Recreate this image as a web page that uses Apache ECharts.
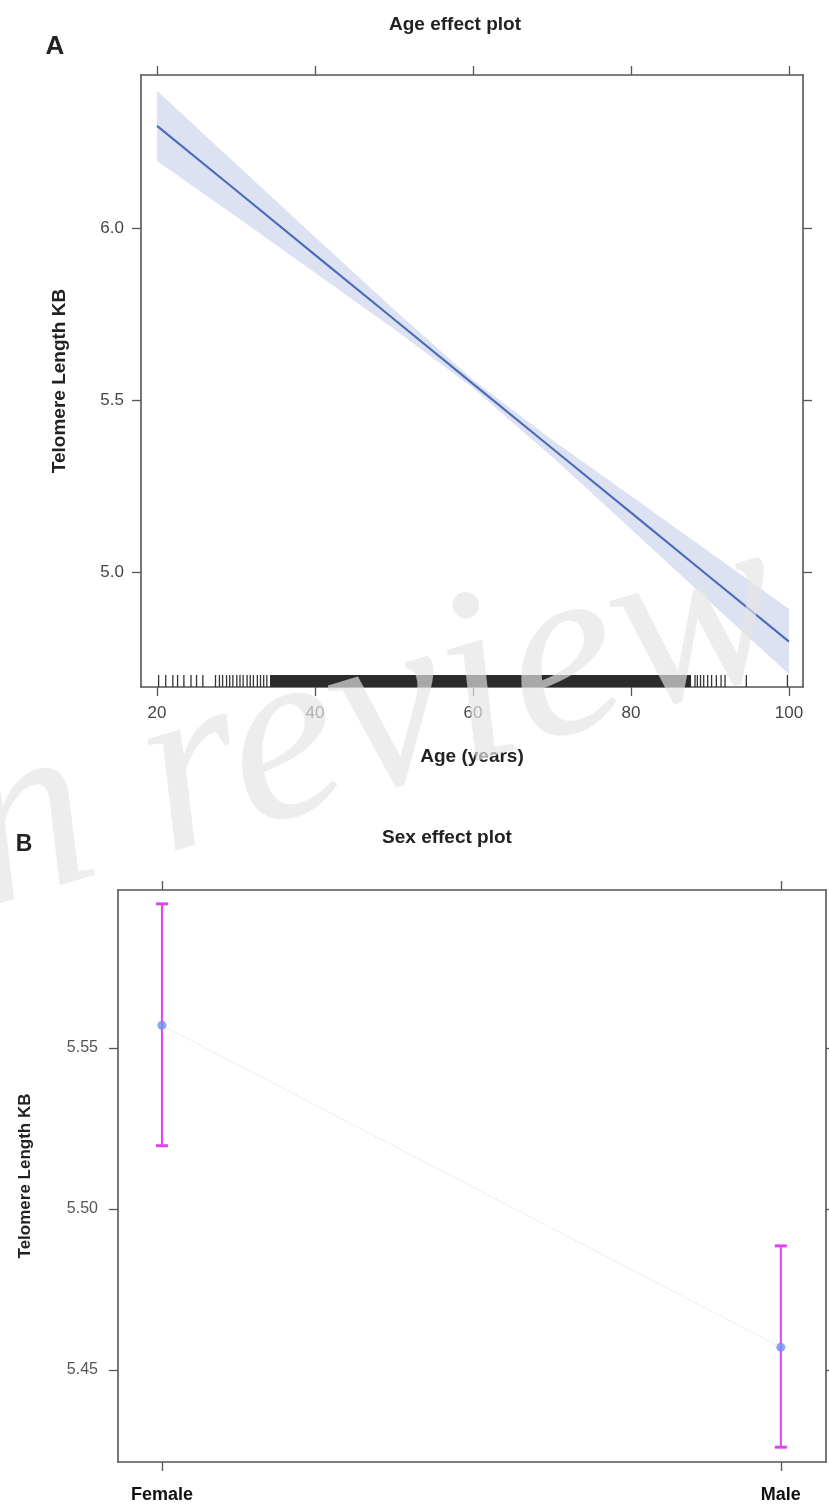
<!DOCTYPE html>
<html>
<head>
<meta charset="utf-8">
<script src="https://cdn.jsdelivr.net/npm/echarts@6/dist/echarts.min.js"></script>
<style>
html,body{margin:0;padding:0;background:#fff;}
#c{width:829px;height:1512px;}
</style>
</head>
<body>
<div id="c"></div>
<script>
// ---- Panel A: Age effect ----
const ageTicks = [20, 40, 60, 80, 100];
const teloTicks = [5.0, 5.5, 6.0];
const ageGrid = [20, 30, 40, 50, 60, 70, 80, 90, 100];
const fitLine = [6.297, 6.110, 5.922, 5.735, 5.547, 5.360, 5.173, 4.985, 4.798];
const bandUpper = [6.399, 6.186, 5.974, 5.763, 5.559, 5.385, 5.221, 5.057, 4.893];
const bandLower = [6.195, 6.034, 5.870, 5.707, 5.535, 5.335, 5.125, 4.913, 4.703];
const rugAges = [20.2, 21.1, 22.0, 22.6, 23.4, 24.3, 25.0, 25.8,
  27.4, 27.9, 28.3, 28.8, 29.2, 29.6, 30.1, 30.5, 30.9, 31.4, 31.8, 32.2, 32.7, 33.1, 33.5, 33.9,
  88.1, 88.4, 88.8, 89.2, 89.7, 90.2, 90.8, 91.4, 91.9, 94.6, 99.8];
const rugDense = [34.3, 87.6];

// ---- Panel B: Sex effect ----
const sexCategories = ['Female', 'Male'];
const sexMeans = [5.557, 5.457];
const sexLower = [5.5196, 5.426];
const sexUpper = [5.5947, 5.4885];
const sexTicks = [5.45, 5.50, 5.55];

const FONT = "'Liberation Sans', Arial, sans-serif";
const AXC = '#555';

const chart = echarts.init(document.getElementById('c'), null, {renderer: 'canvas'});

function frameAxis(extra) {
  return Object.assign({
    type: 'value',
    axisLine: {show: true, onZero: false, lineStyle: {color: AXC, width: 1.6}},
    splitLine: {show: false},
    axisTick: {show: true, length: 9, lineStyle: {color: AXC, width: 1.3}},
    axisLabel: {show: false}
  }, extra);
}

const option = {
  animation: false,
  backgroundColor: '#fff',
  grid: [
    {left: 141, top: 75, width: 662, height: 612, containLabel: false},
    {left: 118, top: 890, width: 708, height: 572, containLabel: false}
  ],
  xAxis: [
    frameAxis({gridIndex: 0, position: 'bottom', min: 17.97, max: 101.77,
      axisTick: {show: true, length: 9, customValues: ageTicks, lineStyle: {color: AXC, width: 1.3}},
      axisLabel: {show: true, customValues: ageTicks, margin: 18, color: '#444', fontSize: 17, fontFamily: FONT},
      name: 'Age (years)', nameLocation: 'middle', nameGap: 60,
      nameTextStyle: {fontSize: 19, fontWeight: 'bold', color: '#222', fontFamily: FONT}
    }),
    frameAxis({gridIndex: 0, position: 'top', min: 17.97, max: 101.77,
      axisTick: {show: true, length: 9, customValues: ageTicks, lineStyle: {color: AXC, width: 1.3}}
    }),
    frameAxis({gridIndex: 1, position: 'bottom', min: 0.929, max: 2.073,
      axisTick: {show: true, length: 9, customValues: [1, 2], lineStyle: {color: AXC, width: 1.3}},
      axisLabel: {show: true, customValues: [1, 2], margin: 24, color: '#111', fontSize: 18,
        fontWeight: 'bold', fontFamily: FONT,
        formatter: v => sexCategories[Math.round(v) - 1]}
    }),
    frameAxis({gridIndex: 1, position: 'top', min: 0.929, max: 2.073,
      axisTick: {show: true, length: 9, customValues: [1, 2], lineStyle: {color: AXC, width: 1.3}}
    })
  ],
  yAxis: [
    frameAxis({gridIndex: 0, position: 'left', min: 4.666, max: 6.445,
      axisTick: {show: true, length: 9, customValues: teloTicks, lineStyle: {color: AXC, width: 1.3}},
      axisLabel: {show: true, customValues: teloTicks, margin: 17, color: '#444', fontSize: 17, fontFamily: FONT,
        formatter: v => v.toFixed(1)},
      name: 'Telomere Length KB', nameLocation: 'middle', nameGap: 72,
      nameTextStyle: {fontSize: 19, fontWeight: 'bold', color: '#222', fontFamily: FONT}
    }),
    frameAxis({gridIndex: 0, position: 'right', min: 4.666, max: 6.445,
      axisTick: {show: true, length: 9, customValues: teloTicks, lineStyle: {color: AXC, width: 1.3}}
    }),
    frameAxis({gridIndex: 1, position: 'left', min: 5.4214, max: 5.599,
      axisTick: {show: true, length: 9, customValues: sexTicks, lineStyle: {color: AXC, width: 1.3}},
      axisLabel: {show: true, customValues: sexTicks, margin: 20, color: '#555', fontSize: 16, fontFamily: FONT,
        formatter: v => v.toFixed(2)},
      name: 'Telomere Length KB', nameLocation: 'middle', nameGap: 84,
      nameTextStyle: {fontSize: 17, fontWeight: 'bold', color: '#222', fontFamily: FONT}
    }),
    frameAxis({gridIndex: 1, position: 'right', min: 5.4214, max: 5.599,
      axisTick: {show: true, length: 9, customValues: sexTicks, lineStyle: {color: AXC, width: 1.3}}
    })
  ],
  graphic: [
    {type: 'text', x: 455, y: 25, style: {text: 'Age effect plot', font: 'bold 19px ' + FONT, fill: '#222', textAlign: 'center', textVerticalAlign: 'middle'}},
    {type: 'text', x: 55, y: 47, style: {text: 'A', font: 'bold 26px ' + FONT, fill: '#222', textAlign: 'center', textVerticalAlign: 'middle'}},
    {type: 'text', x: 447, y: 838, style: {text: 'Sex effect plot', font: 'bold 19px ' + FONT, fill: '#222', textAlign: 'center', textVerticalAlign: 'middle'}},
    {type: 'text', x: 24, y: 845, style: {text: 'B', font: 'bold 23px ' + FONT, fill: '#222', textAlign: 'center', textVerticalAlign: 'middle'}},
    {type: 'text', x: 3, y: 964, rotation: 0.29, z: 100, zlevel: 1,
      style: {text: 'n review', font: 'italic 250px "Liberation Serif", "DejaVu Serif", serif',
        fill: 'rgba(228,228,228,0.68)', textAlign: 'left', textVerticalAlign: 'bottom'}}
  ],
  series: [
    {type: 'custom', xAxisIndex: 0, yAxisIndex: 0, z: 1, silent: true,
      data: [0],
      renderItem: function (params, api) {
        const pts = [];
        ageGrid.forEach((a, i) => pts.push(api.coord([a, bandUpper[i]])));
        for (let i = ageGrid.length - 1; i >= 0; i--) pts.push(api.coord([ageGrid[i], bandLower[i]]));
        return {type: 'polygon', shape: {points: pts}, style: {fill: '#dde2f3'}};
      }},
    {type: 'line', xAxisIndex: 0, yAxisIndex: 0, symbol: 'none', z: 5,
      lineStyle: {color: '#4a6db8', width: 2.2}, data: ageGrid.map((a, i) => [a, fitLine[i]])},
    {type: 'custom', xAxisIndex: 0, yAxisIndex: 0, z: 6, silent: true,
      data: rugAges.map(a => [a]),
      renderItem: function (params, api) {
        const x = api.coord([api.value(0), 5])[0];
        const yb = params.coordSys.y + params.coordSys.height;
        return {type: 'line', shape: {x1: x, y1: yb, x2: x, y2: yb - 12},
          style: {stroke: '#333', lineWidth: 1.3}};
      }},
    {type: 'custom', xAxisIndex: 0, yAxisIndex: 0, z: 6, silent: true,
      data: [rugDense],
      renderItem: function (params, api) {
        const x1 = api.coord([api.value(0), 5])[0];
        const x2 = api.coord([api.value(1), 5])[0];
        const yb = params.coordSys.y + params.coordSys.height;
        return {type: 'rect', shape: {x: x1, y: yb - 12, width: x2 - x1, height: 12},
          style: {fill: '#2b2b2b'}};
      }},
    {type: 'line', xAxisIndex: 2, yAxisIndex: 2, symbol: 'none', z: 2,
      lineStyle: {color: '#e4e4e4', width: 1.2, type: 'dotted'},
      data: sexMeans.map((m, i) => [i + 1, m])},
    {type: 'custom', xAxisIndex: 2, yAxisIndex: 2, z: 4, silent: true,
      data: sexMeans.map((m, i) => [i + 1, sexLower[i], sexUpper[i]]),
      renderItem: function (params, api) {
        const lo = api.coord([api.value(0), api.value(1)]);
        const hi = api.coord([api.value(0), api.value(2)]);
        const st = {stroke: '#e044f0', lineWidth: 2};
        return {type: 'group', children: [
          {type: 'line', shape: {x1: lo[0], y1: lo[1], x2: hi[0], y2: hi[1]}, style: st},
          {type: 'line', shape: {x1: lo[0] - 6, y1: lo[1], x2: lo[0] + 6, y2: lo[1]}, style: {stroke: '#e044f0', lineWidth: 3}},
          {type: 'line', shape: {x1: hi[0] - 6, y1: hi[1], x2: hi[0] + 6, y2: hi[1]}, style: {stroke: '#e044f0', lineWidth: 3}}
        ]};
      }},
    {type: 'scatter', xAxisIndex: 2, yAxisIndex: 2, z: 5, symbolSize: 9,
      itemStyle: {color: '#6f8ff2'},
      data: sexMeans.map((m, i) => [i + 1, m])}
  ]
};
chart.setOption(option);
</script>
</body>
</html>
